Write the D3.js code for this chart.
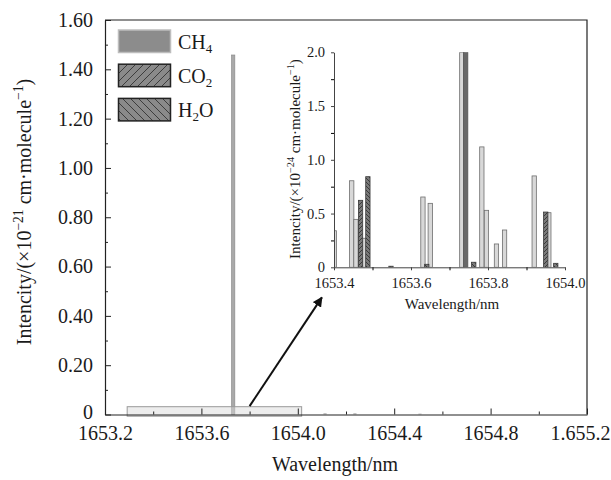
<!DOCTYPE html>
<html><head><meta charset="utf-8">
<script src="https://cdn.jsdelivr.net/npm/d3@7"></script>
<style>
body{margin:0;background:#fff}
svg{display:block}
text{font-family:"Liberation Serif","Times New Roman",serif;fill:#1a1a1a}
</style>
</head><body>
<svg id="c" width="611" height="480"></svg>
<script>
// ---------- data ----------
const mainXTicks = [1653.2, 1653.6, 1654.0, 1654.4, 1654.8, 1655.2];
const mainXTickLabels = ["1653.2", "1653.6", "1654.0", "1654.4", "1654.8", "1.655.2"];
const mainXMinor = [1653.4, 1653.8, 1654.2, 1654.6, 1655.0];
const mainYTicks = [0, 0.2, 0.4, 0.6, 0.8, 1.0, 1.2, 1.4, 1.6];
const mainYTickLabels = ["0", "0.20", "0.40", "0.60", "0.80", "1.00", "1.20", "1.40", "1.60"];
const mainYMinor = [0.1, 0.3, 0.5, 0.7, 0.9, 1.1, 1.3, 1.5];

// main plot CH4 lines (x10^-21)
const mainCH4Wl  = [1653.732, 1654.113, 1654.237, 1654.507];
const mainCH4Val = [1.458, 0.006, 0.006, 0.004];

// zoomed region and arrow (data coordinates of main plot)
const zoomRegion = [1653.292, 1654.016];
const arrowFrom = [1653.80, 0.034];
const arrowTo   = [1654.10, 0.475];

// inset (x10^-24)
const insetXTicks = [1653.4, 1653.6, 1653.8, 1654.0];
const insetXTickLabels = ["1653.4", "1653.6", "1653.8", "1654.0"];
const insetXMinor = [1653.5, 1653.7, 1653.9];
const insetYTicks = [0, 0.5, 1.0, 1.5, 2.0];
const insetYTickLabels = ["0", "0.5", "1.0", "1.5", "2.0"];
const insetYMinor = [0.25, 0.75, 1.25, 1.75];

const insetCH4Wl  = [1653.401, 1653.446, 1653.457, 1653.478, 1653.631, 1653.650, 1653.732, 1653.784, 1653.796, 1653.822, 1653.843, 1653.920, 1653.958];
const insetCH4Val = [0.34, 0.805, 0.446, 0.27, 0.654, 0.595, 2.0, 1.12, 0.53, 0.217, 0.347, 0.85, 0.508];
const insetPeakWl  = [1653.742];
const insetPeakVal = [2.0];
const insetCO2Wl  = [1653.469, 1653.950];
const insetCO2Val = [0.623, 0.514];
const insetH2OWl  = [1653.488, 1653.548, 1653.641, 1653.763, 1653.976];
const insetH2OVal = [0.843, 0.010, 0.028, 0.047, 0.037];

const legendNames = [["CH", "4", ""], ["CO", "2", ""], ["H", "2", "O"]];

// ---------- setup ----------
const svg = d3.select("#c");
const defs = svg.append("defs");
function hatch(id, size, dir, bg) {
  const p = defs.append("pattern").attr("id", id).attr("patternUnits", "userSpaceOnUse")
    .attr("width", size).attr("height", size);
  p.append("rect").attr("width", size).attr("height", size).attr("fill", bg);
  const s = size;
  const d = dir > 0
    ? `M${-1},${s + 1} L${s + 1},${-1} M${-1},1 L1,-1 M${s - 1},${s + 1} L${s + 1},${s - 1}`
    : `M${-1},${-1} L${s + 1},${s + 1} M${s - 1},-1 L${s + 1},1 M-1,${s - 1} L1,${s + 1}`;
  p.append("path").attr("d", d).attr("stroke", "#2a2a2a").attr("stroke-width", 0.8);
}
hatch("hF", 8, 1, "#8a8a8a");
hatch("hB", 8, -1, "#8a8a8a");
hatch("hFs", 4, 1, "#7a7a7a");
hatch("hBs", 4, -1, "#7a7a7a");

const X0 = 105, X1 = 587, Y0 = 414.5, Y1 = 20;
const x = d3.scaleLinear().domain([1653.2, 1655.2]).range([X0, X1]);
const y = d3.scaleLinear().domain([0, 1.6]).range([Y0, Y1]);

// ---------- main bars ----------
const mainData = mainCH4Wl.map((w, i) => ({w, v: mainCH4Val[i]}));
svg.append("g").selectAll("rect").data(mainData).join("rect")
  .attr("x", d => x(d.w) - 1.6).attr("width", 3.2)
  .attr("y", d => y(d.v)).attr("height", d => Math.max(0.8, y(0) - y(d.v)))
  .attr("fill", d => d.v > 0.1 ? "#a9a9a9" : "#c4c4c4")
  .attr("stroke", d => d.v > 0.1 ? "#8c8c8c" : "none").attr("stroke-width", 0.7);

// ---------- zoom region box ----------
svg.append("rect")
  .attr("x", x(zoomRegion[0])).attr("width", x(zoomRegion[1]) - x(zoomRegion[0]))
  .attr("y", Y0 - 7.8).attr("height", 9.5)
  .attr("fill", "rgba(215,215,215,0.45)").attr("stroke", "#9a9a9a").attr("stroke-width", 1);

// ---------- main axes ----------
const gx = svg.append("g").attr("transform", `translate(0,${Y0})`)
  .call(d3.axisBottom(x).tickValues(mainXTicks).tickSizeInner(-6).tickSizeOuter(0).tickPadding(11)
    .tickFormat((d, i) => mainXTickLabels[i]));
svg.append("g").attr("transform", `translate(0,${Y0})`)
  .call(d3.axisBottom(x).tickValues(mainXMinor).tickSizeInner(-3).tickSizeOuter(0).tickFormat(""))
  .select(".domain").remove();
const gy = svg.append("g").attr("transform", `translate(${X0},0)`)
  .call(d3.axisLeft(y).tickValues(mainYTicks).tickSizeInner(-6).tickSizeOuter(0).tickPadding(12)
    .tickFormat((d, i) => mainYTickLabels[i]));
svg.append("g").attr("transform", `translate(${X0},0)`)
  .call(d3.axisLeft(y).tickValues(mainYMinor).tickSizeInner(-3).tickSizeOuter(0).tickFormat(""))
  .select(".domain").remove();
svg.selectAll(".tick line").attr("stroke", "#222");
svg.selectAll(".domain").attr("stroke", "#222").attr("stroke-width", 1.2);
gx.selectAll("text").attr("font-size", 20).attr("font-family", "Liberation Serif").attr("fill", "#1a1a1a");
gx.selectAll(".tick").filter((d, i) => i === mainXTicks.length - 1).select("text").attr("dx", -7);
gy.selectAll("text").attr("font-size", 20).attr("font-family", "Liberation Serif").attr("fill", "#1a1a1a");
gy.selectAll(".tick").filter((d, i) => i === 0).select("text").attr("dy", "0.22em");
// frame top & right
svg.append("path").attr("d", `M${X0},${Y1} L${X1},${Y1} L${X1},${Y0}`)
  .attr("fill", "none").attr("stroke", "#222").attr("stroke-width", 1.2);

// titles
svg.append("text").attr("x", (X0 + X1) / 2 - 11).attr("y", 471).attr("text-anchor", "middle")
  .attr("font-size", 20).text("Wavelength/nm");

function yTitle(g, exp, fs) {
  const t = g.append("text").attr("text-anchor", "middle").attr("font-size", fs);
  t.append("tspan").text("Intencity/(\u00d710");
  t.append("tspan").attr("font-size", fs * 0.68).attr("dy", -fs * 0.42).text("\u2212" + exp);
  t.append("tspan").attr("dy", fs * 0.42).text(" cm\u00b7molecule");
  t.append("tspan").attr("font-size", fs * 0.68).attr("dy", -fs * 0.42).text("\u22121");
  t.append("tspan").attr("dy", fs * 0.42).text(")");
  return t;
}
yTitle(svg.append("g").attr("transform", "translate(31,212) rotate(-90)"), "21", 20);

// ---------- legend ----------
const lg = svg.append("g");
const legFill = [["#8c8c8c", "#bdbdbd"], ["url(#hF)", "#222"], ["url(#hB)", "#222"]];
legendNames.forEach((n, i) => {
  const yy = 30 + i * 34.2;
  lg.append("rect").attr("x", 118.5).attr("y", yy).attr("width", 52).attr("height", 22.5)
    .attr("fill", legFill[i][0]).attr("stroke", legFill[i][1]).attr("stroke-width", 1.5);
  const t = lg.append("text").attr("x", 178).attr("y", yy + 18.5).attr("font-size", 20);
  t.append("tspan").text(n[0]);
  t.append("tspan").attr("font-size", 13).attr("dy", 4).text(n[1]);
  if (n[2]) t.append("tspan").attr("dy", -4).text(n[2]);
});

// ---------- arrow ----------
defs.append("marker").attr("id", "ah").attr("viewBox", "0 0 10 10").attr("refX", 9).attr("refY", 5)
  .attr("markerWidth", 5).attr("markerHeight", 5).attr("orient", "auto")
  .append("path").attr("d", "M0,0 L10,5 L0,10 Z").attr("fill", "#111");
svg.append("line")
  .attr("x1", x(arrowFrom[0])).attr("y1", y(arrowFrom[1]))
  .attr("x2", x(arrowTo[0])).attr("y2", y(arrowTo[1]))
  .attr("stroke", "#111").attr("stroke-width", 2).attr("marker-end", "url(#ah)");

// ---------- inset ----------
const IX0 = 334, IX1 = 565, IY0 = 267.3, IY1 = 52.3;
const ix = d3.scaleLinear().domain([1653.4, 1654.0]).range([IX0, IX1]);
const iy = d3.scaleLinear().domain([0, 2.0]).range([IY0, IY1]);
const bw = ix(1653.4112) - ix(1653.4);
defs.append("clipPath").attr("id", "ic").append("rect")
  .attr("x", IX0).attr("y", IY1).attr("width", IX1 - IX0 + 2).attr("height", IY0 - IY1);
const ib = svg.append("g").attr("clip-path", "url(#ic)");
function bars(wl, val, fill, stroke) {
  ib.append("g").selectAll("rect").data(wl.map((w, i) => ({w, v: val[i]}))).join("rect")
    .attr("x", d => ix(d.w) - bw / 2).attr("width", bw)
    .attr("y", d => iy(d.v)).attr("height", d => Math.max(1, iy(0) - iy(d.v)))
    .attr("fill", fill).attr("stroke", stroke).attr("stroke-width", 0.8);
}
bars(insetCH4Wl, insetCH4Val, "#d8d8d8", "#6e6e6e");
bars(insetPeakWl, insetPeakVal, "#686868", "#555");
bars(insetCO2Wl, insetCO2Val, "url(#hFs)", "#3a3a3a");
bars(insetH2OWl, insetH2OVal, "url(#hBs)", "#3a3a3a");

const igx = svg.append("g").attr("transform", `translate(0,${IY0})`)
  .call(d3.axisBottom(ix).tickValues(insetXTicks).tickSizeInner(3).tickSizeOuter(0).tickPadding(7)
    .tickFormat((d, i) => insetXTickLabels[i]));
svg.append("g").attr("transform", `translate(0,${IY0})`)
  .call(d3.axisBottom(ix).tickValues(insetXMinor).tickSizeInner(3).tickSizeOuter(0).tickFormat(""))
  .select(".domain").remove();
const igy = svg.append("g").attr("transform", `translate(${IX0},0)`)
  .call(d3.axisLeft(iy).tickValues(insetYTicks).tickSizeInner(3).tickSizeOuter(0).tickPadding(6)
    .tickFormat((d, i) => insetYTickLabels[i]));
svg.append("g").attr("transform", `translate(${IX0},0)`)
  .call(d3.axisLeft(iy).tickValues(insetYMinor).tickSizeInner(3).tickSizeOuter(0).tickFormat(""))
  .select(".domain").remove();
[igx, igy].forEach(g => {
  g.selectAll("text").attr("font-size", 14.5).attr("font-family", "Liberation Serif").attr("fill", "#333");
  g.select(".domain").attr("stroke", "#444").attr("stroke-width", 1);
  g.selectAll(".tick line").attr("stroke", "#444");
});
svg.append("text").attr("x", 452).attr("y", 309).attr("text-anchor", "middle")
  .attr("font-size", 15).attr("fill", "#333").text("Wavelength/nm");
yTitle(svg.append("g").attr("transform", "translate(300,159) rotate(-90)"), "24", 15).attr("fill", "#333");
</script>
</body></html>
